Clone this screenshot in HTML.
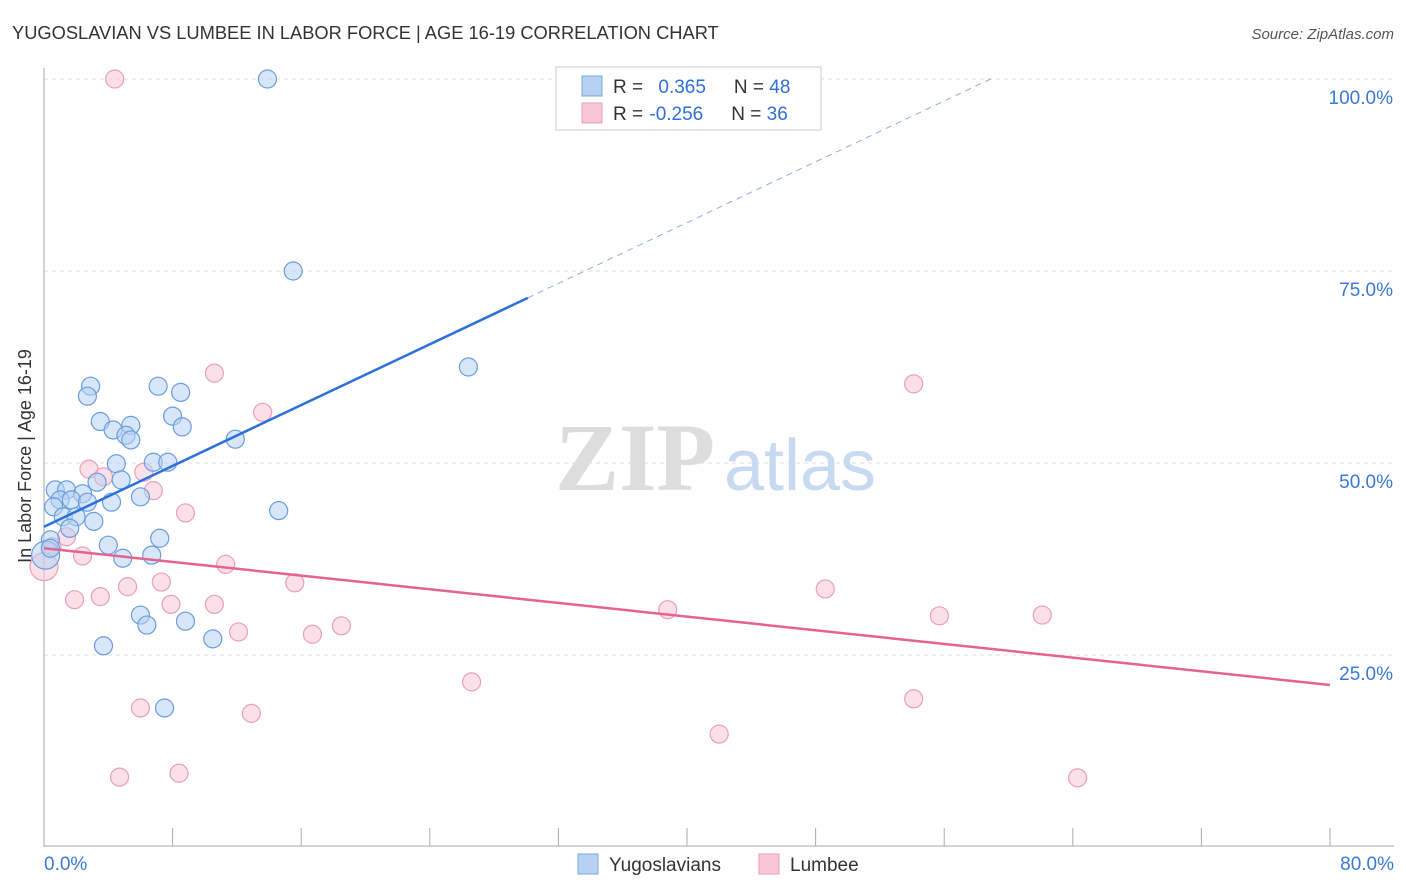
<!DOCTYPE html>
<html><head><meta charset="utf-8"><style>
body{margin:0;background:#fff;font-family:"Liberation Sans",sans-serif}
svg{display:block}
</style></head><body>
<svg id="chart" width="1406" height="892" xmlns="http://www.w3.org/2000/svg">
<text x="12" y="39" font-size="18.3" fill="#333" font-family="Liberation Sans">YUGOSLAVIAN VS LUMBEE IN LABOR FORCE | AGE 16-19 CORRELATION CHART</text>
<text x="1394" y="39" font-size="15" fill="#555" text-anchor="end" font-style="italic">Source: ZipAtlas.com</text>
<g id="grid"></g>
<g>
<text x="635" y="490" font-size="96" fill="#ddd" text-anchor="middle" font-family="Liberation Serif" font-weight="bold">ZIP</text>
<text x="800" y="490" font-size="72" fill="#c8daf2" text-anchor="middle">atlas</text>
</g>
<g id="marks"></g>
<text transform="translate(31,456) rotate(-90)" font-size="18" fill="#333" text-anchor="middle">In Labor Force | Age 16-19</text>
<g>
<rect x="556" y="67" width="265" height="63" fill="#fff" stroke="#ccc"/>
<rect x="582" y="76" width="20" height="20" fill="#b7d1f3" stroke="#7aa7e0"/>
<rect x="582" y="103" width="20" height="20" fill="#f8c6d5" stroke="#eaa0b6"/>
<text x="613" y="93" font-size="19" fill="#333">R = <tspan fill="#2f6fd6" dx="10">0.365</tspan><tspan dx="28" fill="#333">N = </tspan><tspan fill="#2f6fd6">48</tspan></text>
<text x="613" y="120" font-size="19" fill="#333">R = <tspan fill="#2f6fd6" dx="1">-0.256</tspan><tspan dx="28" fill="#333">N = </tspan><tspan fill="#2f6fd6">36</tspan></text>
</g>
<g>
<rect x="578" y="854" width="20" height="20" fill="#b7d1f3" stroke="#7aa7e0"/>
<text x="609" y="871" font-size="19" fill="#333">Yugoslavians</text>
<rect x="759" y="854" width="20" height="20" fill="#f8c6d5" stroke="#eaa0b6"/>
<text x="790" y="871" font-size="19" fill="#333">Lumbee</text>
</g>
</svg>
<script>
const yTicks=[25,50,75,100];
const yTickLabels=["25.0%","50.0%","75.0%","100.0%"];
const xTickLabels=["0.0%","80.0%"];
const blueX=[13.9,15.5,26.4,2.9,2.7,7.1,8.5,3.5,8.0,4.3,5.4,5.1,5.4,8.6,11.9,4.5,6.8,7.7,0.7,1.4,2.4,1.0,1.7,3.3,4.8,2.7,4.2,6.0,0.6,1.2,2.0,3.1,1.6,0.4,4.0,4.9,6.7,7.2,14.6,6.0,6.4,8.8,10.5,3.7,7.5,0.1,0.4];
const blueY=[100,75,62.5,60.0,58.7,60.0,59.2,55.4,56.1,54.3,54.9,53.6,53.0,54.7,53.1,49.9,50.1,50.1,46.5,46.5,46.0,45.2,45.2,47.5,47.8,44.9,44.9,45.6,44.3,43.0,43.0,42.4,41.5,40.0,39.3,37.6,38.0,40.2,43.8,30.2,28.9,29.4,27.1,26.2,18.1,38.0,38.9];
const pinkX=[4.4,10.6,13.6,54.1,2.8,3.7,6.2,6.8,8.8,1.4,0.5,2.4,11.3,7.3,5.2,15.6,48.6,1.9,3.5,7.9,10.6,38.8,55.7,62.1,12.1,18.5,16.7,26.6,54.1,6.0,12.9,42.0,4.7,8.4,64.3,0];
const pinkY=[100,61.7,56.6,60.3,49.2,48.2,48.8,46.4,43.5,40.4,39.1,37.9,36.8,34.5,33.9,34.4,33.6,32.2,32.6,31.6,31.6,30.9,30.1,30.2,28.0,28.8,27.7,21.5,19.3,18.1,17.4,14.7,9.1,9.6,9.0,36.5];
const blueTrend=[41.7,0.99];
const pinkTrend=[38.9,-0.2225];
const X=v=>44+v*1286/80, Y=v=>847-v*7.68;
const NS="http://www.w3.org/2000/svg";
function mk(p,t,a){const e=document.createElementNS(NS,t);for(const k in a)e.setAttribute(k,a[k]);p.appendChild(e);return e;}
const grid=document.getElementById('grid'), marks=document.getElementById('marks');
yTicks.forEach((t,i)=>{
 const l=mk(grid,'line',{x1:44,x2:1394,y1:Y(t),y2:Y(t),stroke:'#ddd','stroke-dasharray':'4,4'});
 
 
 const tx=mk(grid,'text',{x:1393,y:Y(t)+25,'font-size':19,fill:'#3a78d8','text-anchor':'end'});tx.textContent=yTickLabels[i];
 
 
});
const ax=mk(grid,'line',{x1:44,x2:44,y1:68,y2:847,stroke:'#aaa'});


const bx=mk(grid,'line',{x1:44,x2:1394,y1:846,y2:846,stroke:'#aaa'});


for(let i=0;i<=10;i++){const tk=mk(grid,'line',{x1:X(i*8),x2:X(i*8),y1:828,y2:846,stroke:'#aaa'});
 
 }
[[0,'start',44],[80,'end',1394]].forEach((d,i)=>{const t=mk(grid,'text',{x:d[2],y:870,'font-size':19,fill:'#3a78d8','text-anchor':d[1]});t.textContent=xTickLabels[i];
 
 });
function dots(xs,ys,fill,stroke,name){xs.forEach((x,i)=>{const big=(x<0.3);const c=mk(marks,'circle',{cx:X(x),cy:Y(ys[i]),r:big?14:9,fill:fill,'fill-opacity':0.55,stroke:stroke,'stroke-width':1.2});
 
 });}
dots(pinkX,pinkY,'#f8c6d5','#e8a0b8','lumbee-point');
dots(blueX,blueY,'#b7d1f3','#6a9de0','yugoslavian-point');
const bEnd=(100-blueTrend[0])/blueTrend[1];
const b1=mk(marks,'line',{x1:X(0),y1:Y(blueTrend[0]),x2:X(30.1),y2:Y(blueTrend[0]+blueTrend[1]*30.1),stroke:'#2a72d8','stroke-width':2.5});


const b2=mk(marks,'line',{x1:X(30.1),y1:Y(blueTrend[0]+blueTrend[1]*30.1),x2:X(bEnd),y2:Y(100),stroke:'#8ab0e6','stroke-width':1,'stroke-dasharray':'6,5'});


const p1=mk(marks,'line',{x1:X(0),y1:Y(pinkTrend[0]),x2:X(80),y2:Y(pinkTrend[0]+pinkTrend[1]*80),stroke:'#e5638f','stroke-width':2.5});


</script>
</body></html>
